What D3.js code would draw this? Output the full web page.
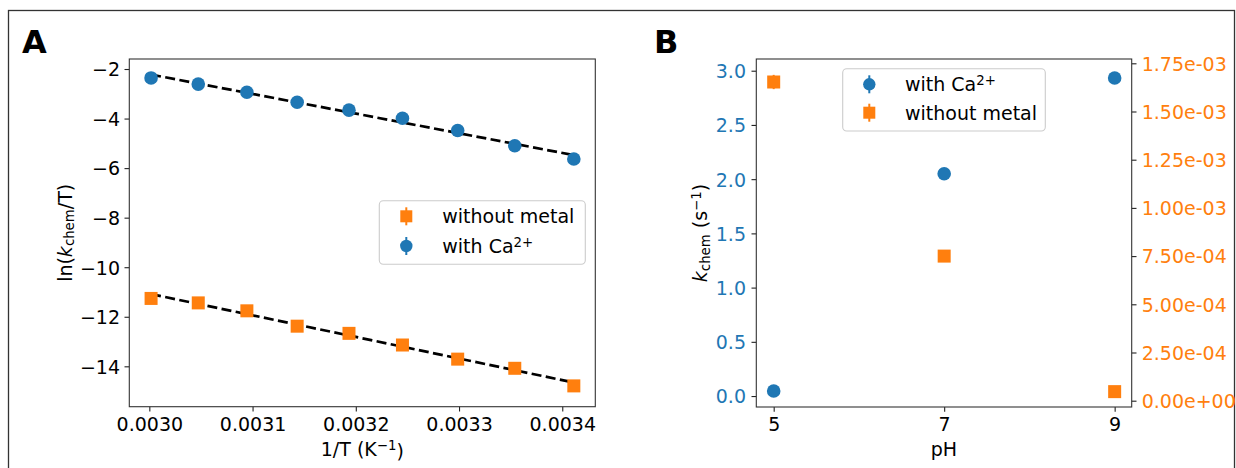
<!DOCTYPE html>
<html>
<head>
<meta charset="utf-8">
<script src="https://cdn.jsdelivr.net/npm/d3@7"></script>
<style>
  html, body { margin: 0; padding: 0; background: #fff; }
  svg { display: block; }
</style>
</head>
<body>
<script>
// ---------------- DATA ----------------
// Panel A: Arrhenius/Eyring plot, 1/T (K^-1) vs ln(kchem/T)
const invT = [0.0030017, 0.0030474, 0.0030945, 0.0031432, 0.0031934, 0.0032452, 0.0032987, 0.0033540, 0.0034112];
const lnWithCa = [-2.36, -2.61, -2.94, -3.34, -3.66, -3.99, -4.48, -5.10, -5.63];
const lnWithout = [-11.26, -11.44, -11.76, -12.38, -12.67, -13.14, -13.71, -14.08, -14.79];
const aXTicks = [0.0030, 0.0031, 0.0032, 0.0033, 0.0034];
const aYTicks = [-2, -4, -6, -8, -10, -12, -14];

// Panel B: kchem vs pH
const pHValues = [5, 7, 9];
const kWithCa = [0.046, 2.05, 2.933];
const kWithCaErr = [0.01, 0.02, 0.03];
const kWithout = [1.653e-3, 7.50e-4, 4.7e-5];
const kWithoutErr = [3.7e-5, 1.0e-5, 2.0e-6];
const bXTicks = [5, 7, 9];
const bYLeftTicks = [0.0, 0.5, 1.0, 1.5, 2.0, 2.5, 3.0];
const bYRightTicks = [0, 2.5e-4, 5.0e-4, 7.5e-4, 1.0e-3, 1.25e-3, 1.5e-3, 1.75e-3];
const bYRightLabels = ["0.00e+00", "2.50e-04", "5.00e-04", "7.50e-04", "1.00e-03", "1.25e-03", "1.50e-03", "1.75e-03"];

// ---------------- STYLE ----------------
const FONT = "DejaVu Sans, Liberation Sans, sans-serif";
const FS = 19;
const BLUE = "#1f77b4", ORANGE = "#ff7f0e";
const TICK = 4.8;

const svg = d3.select("body").append("svg")
  .attr("width", 1236).attr("height", 468)
  .attr("font-family", FONT);
svg.append("rect").attr("width", 1236).attr("height", 468).attr("fill", "#fff");

// outer figure frame
svg.append("rect")
  .attr("x", 8.5).attr("y", 10.5).attr("width", 1226).attr("height", 520)
  .attr("fill", "none").attr("stroke", "#333").attr("stroke-width", 1.3);

function styleAxis(g, color) {
  g.select(".domain").remove();
  g.selectAll(".tick line").attr("stroke", "#222").attr("stroke-width", 1.1);
  g.selectAll(".tick text")
    .attr("font-family", FONT).attr("font-size", FS)
    .attr("fill", color || "#000");
}

function leastSquares(xs, ys) {
  const n = xs.length;
  const mx = d3.mean(xs), my = d3.mean(ys);
  let sxy = 0, sxx = 0;
  for (let i = 0; i < n; i++) { sxy += (xs[i] - mx) * (ys[i] - my); sxx += (xs[i] - mx) ** 2; }
  const m = sxy / sxx;
  return { m, b: my - m * mx };
}

function circleMarker(g, cx, cy, r, color) {
  g.append("circle").attr("cx", cx).attr("cy", cy).attr("r", r).attr("fill", color);
}
function squareMarker(g, cx, cy, s, color) {
  g.append("rect").attr("x", cx - s / 2).attr("y", cy - s / 2)
    .attr("width", s).attr("height", s).attr("fill", color);
}

// ---------------- PANEL A ----------------
const A = { left: 129.3, right: 595.3, top: 59, bottom: 406.7 };
const ax = d3.scaleLinear().domain([0.0029806, 0.0034320]).range([A.left, A.right]);
const ay = d3.scaleLinear().domain([-15.63, -1.596]).range([A.bottom, A.top]);
const gA = svg.append("g");

gA.append("text").attr("x", 22).attr("y", 52.5)
  .attr("font-size", 32).attr("font-weight", "bold").text("A");

const axA = gA.append("g").attr("transform", `translate(0,${A.bottom})`)
  .call(d3.axisBottom(ax).tickValues(aXTicks).tickFormat(d3.format(".4f"))
    .tickSize(TICK).tickSizeOuter(0).tickPadding(6));
styleAxis(axA);
const ayA = gA.append("g").attr("transform", `translate(${A.left},0)`)
  .call(d3.axisLeft(ay).tickValues(aYTicks).tickFormat(d => "\u2212" + Math.abs(d))
    .tickSize(TICK).tickSizeOuter(0).tickPadding(4.5));
styleAxis(ayA);
ayA.selectAll(".tick text").attr("dy", "0.36em");

// fit lines
[lnWithCa, lnWithout].forEach(ys => {
  const f = leastSquares(invT, ys);
  const x0 = invT[0], x1 = invT[invT.length - 1];
  gA.append("line")
    .attr("x1", ax(x0)).attr("y1", ay(f.m * x0 + f.b))
    .attr("x2", ax(x1)).attr("y2", ay(f.m * x1 + f.b))
    .attr("stroke", "#000").attr("stroke-width", 2.7)
    .attr("stroke-dasharray", "10,4.4");
});

invT.forEach((x, i) => circleMarker(gA, ax(x), ay(lnWithCa[i]), 6.8, BLUE));
invT.forEach((x, i) => squareMarker(gA, ax(x), ay(lnWithout[i]), 13, ORANGE));

gA.append("rect").attr("x", A.left).attr("y", A.top)
  .attr("width", A.right - A.left).attr("height", A.bottom - A.top)
  .attr("fill", "none").attr("stroke", "#333").attr("stroke-width", 1.1);

// axis labels A
gA.append("text").attr("x", (A.left + A.right) / 2).attr("y", 455.5)
  .attr("text-anchor", "middle").attr("font-size", FS)
  .call(t => {
    t.append("tspan").text("1/T (K");
    t.append("tspan").attr("dy", "-0.45em").attr("font-size", FS * 0.7).text("\u22121");
    t.append("tspan").attr("dy", "0.45em").text(")");
  });
gA.append("text")
  .attr("transform", `translate(71.5,${(A.top + A.bottom) / 2}) rotate(-90)`)
  .attr("text-anchor", "middle").attr("font-size", FS)
  .call(t => {
    t.append("tspan").text("ln(");
    t.append("tspan").attr("font-style", "italic").text("k");
    t.append("tspan").attr("dy", "0.22em").attr("font-size", FS * 0.7).text("chem");
    t.append("tspan").attr("dy", "-0.154em").text("/T)");
  });

// legend A
function legendBox(g, x, y, w, h) {
  g.append("rect").attr("x", x).attr("y", y).attr("width", w).attr("height", h)
    .attr("rx", 4).attr("fill", "#fff").attr("fill-opacity", 0.8)
    .attr("stroke", "#cccccc").attr("stroke-width", 1.1);
}
function legendEntry(g, mx, my, tx, kind, color, label) {
  g.append("line").attr("x1", mx).attr("x2", mx).attr("y1", my - 9).attr("y2", my + 9)
    .attr("stroke", color).attr("stroke-width", 2);
  if (kind === "circle") circleMarker(g, mx, my, 6.2, color);
  else squareMarker(g, mx, my, 12, color);
  const t = g.append("text").attr("x", tx).attr("y", my + 6.9).attr("font-size", FS);
  label(t);
}
const labelWithout = t => t.text("without metal");
const labelWithCa = t => {
  t.append("tspan").text("with Ca");
  t.append("tspan").attr("dy", "-0.45em").attr("font-size", FS * 0.7).text("2+");
};
legendBox(gA, 379.3, 200.7, 206, 63.6);
legendEntry(gA, 406.3, 216.3, 442.3, "square", ORANGE, labelWithout);
legendEntry(gA, 406.3, 246, 442.3, "circle", BLUE, labelWithCa);

// ---------------- PANEL B ----------------
const B = { left: 756.3, right: 1131.7, top: 59, bottom: 407 };
const bx = d3.scaleLinear().domain([4.796, 9.2]).range([B.left, B.right]);
const byL = d3.scaleLinear().domain([-0.101, 3.108]).range([B.bottom, B.top]);
const byR = d3.scaleLinear().domain([-3.27e-5, 1.7723e-3]).range([B.bottom, B.top]);
const gB = svg.append("g");

gB.append("text").attr("x", 654).attr("y", 52.5)
  .attr("font-size", 32).attr("font-weight", "bold").text("B");

const axB = gB.append("g").attr("transform", `translate(0,${B.bottom})`)
  .call(d3.axisBottom(bx).tickValues(bXTicks).tickFormat(d3.format("d"))
    .tickSize(TICK).tickSizeOuter(0).tickPadding(6));
styleAxis(axB);
const ayBL = gB.append("g").attr("transform", `translate(${B.left},0)`)
  .call(d3.axisLeft(byL).tickValues(bYLeftTicks).tickFormat(d3.format(".1f"))
    .tickSize(TICK).tickSizeOuter(0).tickPadding(5.5));
styleAxis(ayBL, BLUE);
ayBL.selectAll(".tick text").attr("dy", "0.36em");
const ayBR = gB.append("g").attr("transform", `translate(${B.right},0)`)
  .call(d3.axisRight(byR).tickValues(bYRightTicks).tickFormat((d, i) => bYRightLabels[i])
    .tickSize(TICK).tickSizeOuter(0).tickPadding(5.2));
styleAxis(ayBR, ORANGE);
ayBR.selectAll(".tick text").attr("dy", "0.36em");

// error bars + markers
pHValues.forEach((p, i) => {
  gB.append("line").attr("x1", bx(p)).attr("x2", bx(p))
    .attr("y1", byL(kWithCa[i] - kWithCaErr[i])).attr("y2", byL(kWithCa[i] + kWithCaErr[i]))
    .attr("stroke", BLUE).attr("stroke-width", 2);
  circleMarker(gB, bx(p), byL(kWithCa[i]), 6.8, BLUE);
});
pHValues.forEach((p, i) => {
  gB.append("line").attr("x1", bx(p)).attr("x2", bx(p))
    .attr("y1", byR(kWithout[i] - kWithoutErr[i])).attr("y2", byR(kWithout[i] + kWithoutErr[i]))
    .attr("stroke", ORANGE).attr("stroke-width", 2);
  squareMarker(gB, bx(p), byR(kWithout[i]), 13, ORANGE);
});

gB.append("rect").attr("x", B.left).attr("y", B.top)
  .attr("width", B.right - B.left).attr("height", B.bottom - B.top)
  .attr("fill", "none").attr("stroke", "#333").attr("stroke-width", 1.1);

gB.append("text").attr("x", (B.left + B.right) / 2).attr("y", 456.4)
  .attr("text-anchor", "middle").attr("font-size", FS).text("pH");
gB.append("text")
  .attr("transform", `translate(707,${(B.top + B.bottom) / 2}) rotate(-90)`)
  .attr("text-anchor", "middle").attr("font-size", FS)
  .call(t => {
    t.append("tspan").attr("font-style", "italic").text("k");
    t.append("tspan").attr("dy", "0.22em").attr("font-size", FS * 0.7).text("chem");
    t.append("tspan").attr("dy", "-0.154em").text(" (s");
    t.append("tspan").attr("dy", "-0.45em").attr("font-size", FS * 0.7).text("\u22121");
    t.append("tspan").attr("dy", "0.315em").text(")");
  });

legendBox(gB, 842.7, 68.7, 202.6, 62.3);
legendEntry(gB, 869.3, 84.3, 905, "circle", BLUE, labelWithCa);
legendEntry(gB, 869.3, 112.7, 905, "square", ORANGE, labelWithout);
</script>
</body>
</html>
